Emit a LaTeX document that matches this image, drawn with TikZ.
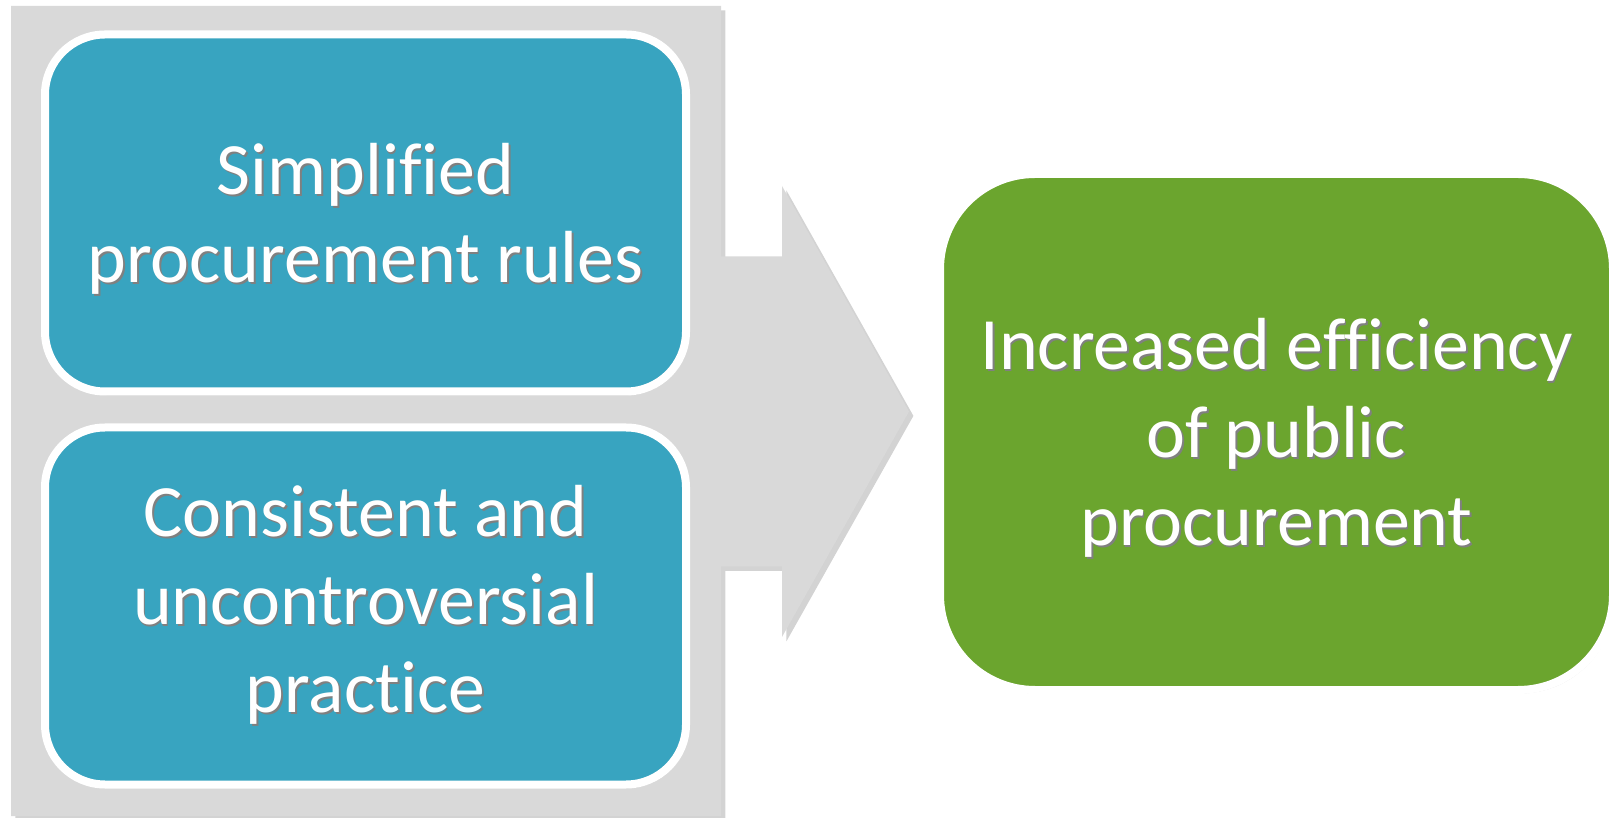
\documentclass[tikz,border=0pt]{standalone}
\usepackage{fontspec}
\setmainfont[Ligatures=NoCommon]{Carlito}
\usepackage{tikz}
\usetikzlibrary{calc,positioning,shadows}
\definecolor{causeblue}{HTML}{38A4C0}
\definecolor{resultgreen}{HTML}{6BA52E}
\definecolor{panelgray}{HTML}{D9D9D9}
\tikzset{node distance=0.56cm}
\newcommand{\shadowed}[1]{\rlap{\kern1pt\raisebox{-1pt}{\textcolor{black!50}{#1}}}#1}

\begin{document}
\begin{tikzpicture}

	% Definitions.
	\tikzstyle{every node}=[
		font=\fontsize{42}{50}\selectfont,
		text=white,
		align=center,
		inner sep=0pt
	]
	\tikzstyle{causebox}=[draw=white, line width=0.16cm, fill=causeblue,
		rounded corners=1.2cm, minimum width=12.82cm, minimum height=7.14cm,
		drop shadow={shadow xshift=1pt, shadow yshift=-2pt, opacity=0.25}]
	\tikzstyle{resultbox}=[draw=white, line width=0.16cm, fill=resultgreen,
		rounded corners=1.9cm, minimum width=13.46cm, minimum height=10.32cm,
		drop shadow={shadow xshift=1pt, shadow yshift=-2pt, opacity=0.25}]
	\def\PanelLeft{0.22}
	\def\PanelRight{14.42}
	\def\PanelTop{16.22}
	\def\PanelBottom{0.02}
	\def\HeadBase{15.64}
	\def\ArrowMid{8.11}
	\def\NotchHalf{3.10}
	\def\HeadHalf{4.51}

	\useasboundingbox (0,0) rectangle (32.4,16.34);

	% ---------- Panel with Arrow ---------

	\coordinate (tip) at (18.18,\ArrowMid);
	\fill[panelgray, drop shadow={shadow xshift=2.5pt, shadow yshift=-2.5pt, opacity=0.35}]
	(\PanelLeft,\PanelBottom) -- (\PanelLeft,\PanelTop) --
	(\PanelRight,\PanelTop) -- (\PanelRight,{\ArrowMid+\NotchHalf}) --
	(\HeadBase,{\ArrowMid+\NotchHalf}) -- (\HeadBase,{\ArrowMid+\HeadHalf}) --
	(tip) --
	(\HeadBase,{\ArrowMid-\HeadHalf}) -- (\HeadBase,{\ArrowMid-\NotchHalf}) --
	(\PanelRight,{\ArrowMid-\NotchHalf}) -- (\PanelRight,\PanelBottom) -- cycle;

	% ------------ Causes -----------

	\node[causebox, text depth=0pt] (rules) at (7.31,12.08) {\shadowed{Simplified}\\\shadowed{procurement rules}};
	\node[causebox, below=of rules] (practice) {\shadowed{Consistent and}\\\shadowed{uncontroversial}\\\shadowed{practice}};

	% ------------ Result -----------

	\node[resultbox, text depth=0pt] (efficiency) at (25.53,7.70) {\shadowed{Increased efficiency}\\\shadowed{of public}\\\shadowed{procurement}};

\end{tikzpicture}
\end{document}
